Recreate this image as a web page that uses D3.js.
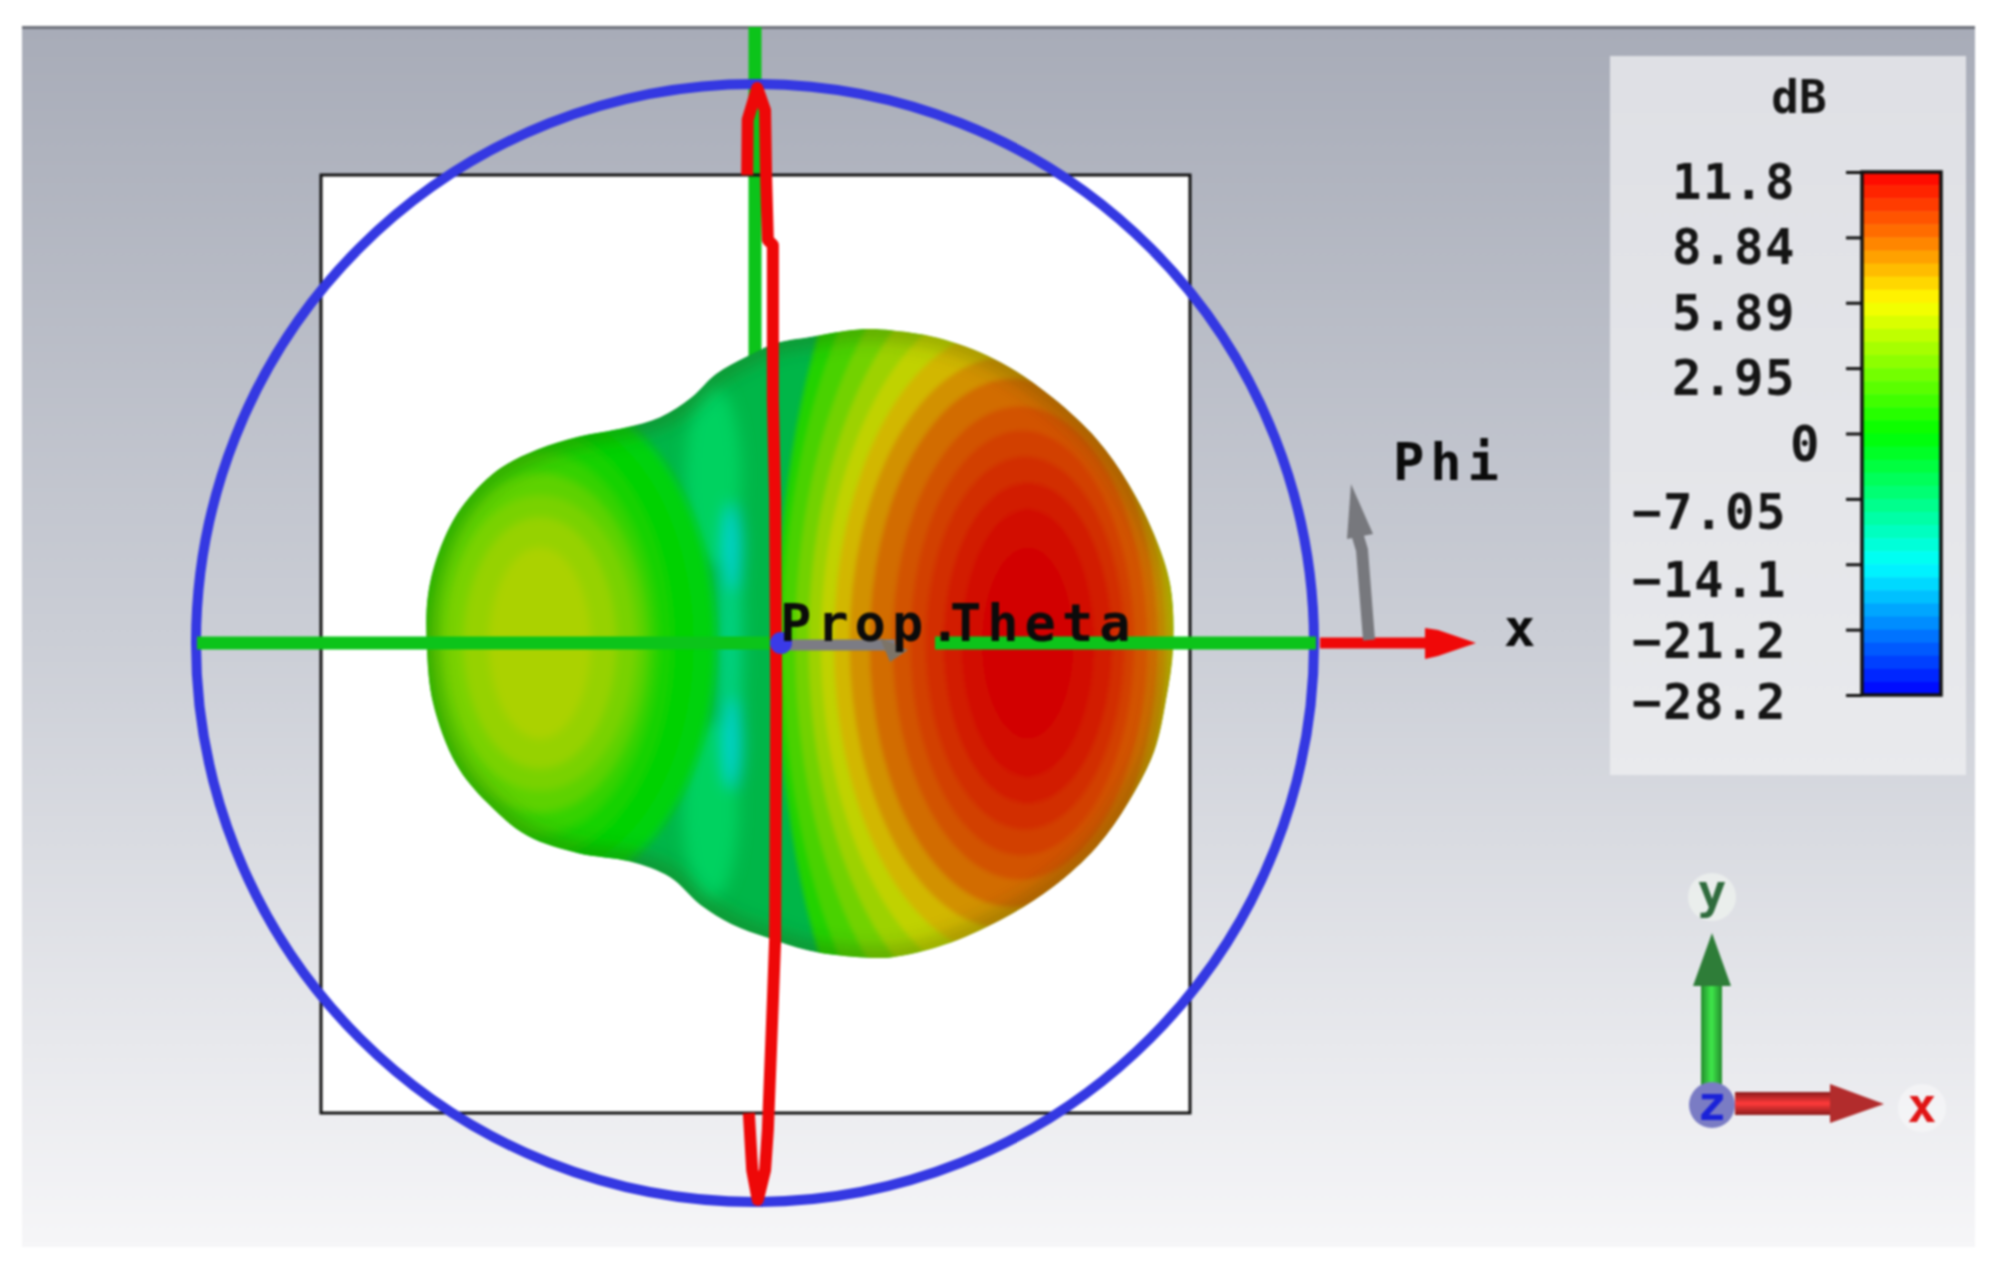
<!DOCTYPE html>
<html>
<head>
<meta charset="utf-8">
<title>Farfield pattern</title>
<script src="https://cdn.jsdelivr.net/npm/d3@7"></script>
<style>
  html, body { margin: 0; padding: 0; background: #fff; }
  svg { display: block; filter: blur(0.8px); }
  text { font-family: "DejaVu Sans Mono", monospace; }
</style>
</head>
<body>
<svg id="chart" width="1999" height="1279"></svg>
<script>
// Colour legend, top to bottom
const legendTicks = [11.8, 8.84, 5.89, 2.95, 0, -7.05, -14.1, -21.2, -28.2];
const legendLabels = ["11.8", "8.84", "5.89", "2.95", "0", "-7.05", "-14.1", "-21.2", "-28.2"];
const legendColors = ["#ff0000", "#ff7800", "#ffff00", "#80ff00", "#00ff00", "#00ff80", "#00ffff", "#0080ff", "#0000ff"];

// Outline of the pattern, in units of the blue circle radius
const outlineU = [0.748, 0.743, 0.714, 0.668, 0.611, 0.531, 0.44, 0.338, 0.246, 0.186, 0.095, 0.04, -0.014, -0.07, -0.114, -0.17, -0.233, -0.316, -0.389, -0.462, -0.526, -0.562, -0.585, -0.587, -0.576, -0.535, -0.479, -0.407, -0.316, -0.224, -0.152, -0.097, -0.042, 0.021, 0.095, 0.186, 0.246, 0.338, 0.44, 0.531, 0.611, 0.668, 0.714, 0.735];
const outlineV = [-0.007, 0.103, 0.194, 0.285, 0.365, 0.44, 0.502, 0.543, 0.559, 0.561, 0.547, 0.537, 0.513, 0.481, 0.439, 0.404, 0.385, 0.369, 0.346, 0.308, 0.241, 0.172, 0.086, -0.007, -0.107, -0.216, -0.286, -0.345, -0.376, -0.391, -0.419, -0.469, -0.503, -0.527, -0.55, -0.562, -0.562, -0.54, -0.495, -0.438, -0.365, -0.285, -0.194, -0.103];

// Main lobe contour bands (outermost first)
const mainDb = [1, 2, 3.2, 4.4, 5.4, 6.6, 7.6, 8.6, 9.3, 9.9, 10.4, 10.9, 11.3, 11.8];
const mainCx = [0.478, 0.456, 0.449, 0.447, 0.444, 0.444, 0.452, 0.463, 0.474, 0.478, 0.483, 0.488, 0.488, 0.488];
const mainRx = [0.438, 0.406, 0.377, 0.351, 0.326, 0.303, 0.283, 0.258, 0.228, 0.2, 0.178, 0.151, 0.119, 0.082];
const mainRy = [1.0, 0.85, 0.75, 0.68, 0.613, 0.559, 0.512, 0.473, 0.423, 0.38, 0.334, 0.287, 0.24, 0.171];

// Back lobe contour bands
const backDb = [-0.6, 0, 0.6, 1.5, 2.6, 3.4, 4.2, 4.8];
const backCx = [-0.36, -0.37, -0.38, -0.385, -0.385, -0.385, -0.385, -0.385];
const backRx = [0.29, 0.26, 0.233, 0.21, 0.192, 0.172, 0.137, 0.091];
const backRy = [0.44, 0.41, 0.38, 0.341, 0.303, 0.264, 0.225, 0.171];

// Null between the lobes
const nullDb = [-6.5, -6.5, -8.5, -14, -14];
const nullU = [-0.075, -0.08, -0.045, -0.04, -0.04];
const nullV = [0.3, -0.3, 0, 0.17, -0.18];
const nullRx = [0.05, 0.05, 0.022, 0.016, 0.016];
const nullRy = [0.16, 0.16, 0.26, 0.075, 0.08];

// Polar cut (red trace)
const cutU = [-0.014, -0.013, 0.004, 0.018, 0.02, 0.023, 0.032, 0.032, 0.036, 0.038, 0.036, 0.032, 0.023, 0.018, 0.005, -0.005, -0.011];
const cutV = [0.837, 0.936, 0.993, 0.953, 0.828, 0.721, 0.712, 0.435, 0.256, -0.102, -0.531, -0.639, -0.871, -0.943, -0.996, -0.943, -0.841];

const svg = d3.select("#chart");
const defs = svg.append("defs");

const px = d3.scaleLinear().domain([-1, 1]).range([196, 1314]);
const py = d3.scaleLinear().domain([-1, 1]).range([1202, 84]);

const tickIndex = legendTicks.map((d, i) => i);
const dbToIndex = d3.scaleLinear().domain(legendTicks).range(tickIndex);
const indexColor = d3.scaleLinear().domain(tickIndex).range(legendColors);
const legendY = d3.scaleLinear().domain([0, 8]).range([172, 695]);
const surface = (db) => d3.rgb(indexColor(dbToIndex(db))).darker(0.55).formatRgb();

function vGradient(id, stops) {
  const g = defs.append("linearGradient").attr("id", id).attr("x1", 0).attr("x2", 0).attr("y1", 0).attr("y2", 1);
  stops.forEach((s) => g.append("stop").attr("offset", s[0]).attr("stop-color", s[1]));
}
function hGradient(id, stops) {
  const g = defs.append("linearGradient").attr("id", id).attr("x1", 0).attr("x2", 1).attr("y1", 0).attr("y2", 0);
  stops.forEach((s) => g.append("stop").attr("offset", s[0]).attr("stop-color", s[1]));
}
vGradient("bg", [[0, "#a8acb8"], [0.5, "#cbced6"], [1, "#f6f6f8"]]);
vGradient("panel", [[0, "#dfe0e5"], [1, "#e9eaed"]]);
hGradient("shaftY", [[0, "#228a2c"], [0.5, "#3fe84a"], [1, "#228a2c"]]);
vGradient("shaftX", [[0, "#8a1c1c"], [0.5, "#ff3a3a"], [1, "#8a1c1c"]]);

[["soft2", 2], ["soft4", 4], ["soft8", 8], ["soft9", 9]].forEach(([id, s]) => {
  defs.append("filter").attr("id", id)
    .attr("x", "-30%").attr("y", "-30%").attr("width", "160%").attr("height", "160%")
    .append("feGaussianBlur").attr("stdDeviation", s);
});

// Background
svg.append("rect").attr("x", 22).attr("y", 26).attr("width", 1953).attr("height", 1221).attr("fill", "url(#bg)");
svg.append("rect").attr("x", 22).attr("y", 26).attr("width", 1953).attr("height", 3).attr("fill", "#6f727b");

// Substrate
svg.append("rect").attr("x", 321).attr("y", 175).attr("width", 869).attr("height", 938)
  .attr("fill", "#fff");

const lineFn = d3.line().x((d) => px(d[0])).y((d) => py(d[1]));

// Vertical green axis sits behind the pattern
svg.append("line").attr("x1", px(0)).attr("x2", px(0)).attr("y1", 27).attr("y2", 360)
  .attr("stroke", "#0cc41a").attr("stroke-width", 13);

// Pattern surface
const outlinePts = outlineU.map((u, i) => [u, outlineV[i]]);
const outlineD = lineFn.curve(d3.curveCatmullRomClosed)(outlinePts);
defs.append("clipPath").attr("id", "blob").append("path").attr("d", outlineD);

const blob = svg.append("g").attr("clip-path", "url(#blob)");
blob.append("path").attr("d", outlineD).attr("fill", "#00b648");

blob.append("g").attr("filter", "url(#soft8)")
  .selectAll("ellipse").data(nullDb).join("ellipse")
  .attr("cx", (d, i) => px(nullU[i]))
  .attr("cy", (d, i) => py(nullV[i]))
  .attr("rx", (d, i) => px(nullRx[i]) - px(0))
  .attr("ry", (d, i) => py(0) - py(nullRy[i]))
  .attr("fill", (d) => surface(d));

function rings(dbs, cxs, rxs, rys, soft) {
  blob.append("g").attr("filter", "url(#" + soft + ")")
    .selectAll("ellipse").data(dbs).join("ellipse")
    .attr("cx", (d, i) => px(cxs[i]))
    .attr("cy", py(0))
    .attr("rx", (d, i) => px(rxs[i]) - px(0))
    .attr("ry", (d, i) => py(0) - py(rys[i]))
    .attr("fill", (d) => surface(d));
}
rings(backDb, backCx, backRx, backRy, "soft4");
rings(mainDb, mainCx, mainRx, mainRy, "soft2");

// Darker rim of the surface
blob.append("path").attr("d", outlineD).attr("fill", "none")
  .attr("stroke", "#3a4a10").attr("stroke-width", 20).attr("stroke-opacity", 0.3)
  .attr("filter", "url(#soft9)");

// Box outline above the pattern trace parts
svg.append("rect").attr("x", 321).attr("y", 175).attr("width", 869).attr("height", 938)
  .attr("fill", "none").attr("stroke", "#111").attr("stroke-width", 3);

// Blue circle
svg.append("circle").attr("cx", px(0)).attr("cy", py(0)).attr("r", px(1) - px(0))
  .attr("fill", "none").attr("stroke", "#3438e2").attr("stroke-width", 10);

// Horizontal green axis, gray theta arrow
svg.append("line").attr("x1", 197).attr("x2", 775).attr("y1", py(0)).attr("y2", py(0))
  .attr("stroke", "#0cc41a").attr("stroke-width", 13);
svg.append("line").attr("x1", 780).attr("x2", 895).attr("y1", py(0) + 2).attr("y2", py(0) + 2)
  .attr("stroke", "#7c7c84").attr("stroke-width", 11);
svg.append("path").attr("d", "M880,638 L908,650 L890,662 Z").attr("fill", "#7c7468");
svg.append("line").attr("x1", 935).attr("x2", 1316).attr("y1", py(0)).attr("y2", py(0))
  .attr("stroke", "#0cc41a").attr("stroke-width", 13);

// Red trace
const cutPts = cutU.map((u, i) => [u, cutV[i]]);
svg.append("path").attr("d", lineFn.curve(d3.curveLinear)(cutPts))
  .attr("fill", "none").attr("stroke", "#ee0808").attr("stroke-width", 12).attr("stroke-linejoin", "round");

// Origin marker
svg.append("circle").attr("cx", 781).attr("cy", py(0)).attr("r", 11).attr("fill", "#3a3ae8");

// X arrow, phi arrow
svg.append("line").attr("x1", 1320).attr("x2", 1440).attr("y1", py(0)).attr("y2", py(0))
  .attr("stroke", "#f00808").attr("stroke-width", 11);
svg.append("path").attr("d", "M1425,628 L1438,630 L1476,643 L1438,656 L1425,659 Z").attr("fill", "#f00808");
svg.append("path").attr("d", "M1369,640 L1362,550 L1356,530").attr("fill", "none")
  .attr("stroke", "#77787d").attr("stroke-width", 12);
svg.append("path").attr("d", "M1351,484 L1373,534 L1347,539 Z").attr("fill", "#77787d");

const labelG = svg.append("g").attr("fill", "#0b0b0b").attr("font-size", 52).attr("font-weight", 700).attr("letter-spacing", 6);
labelG.append("text").attr("x", 780).attr("y", 641).text("Prop.");
labelG.append("text").attr("x", 950).attr("y", 641).text("Theta");
labelG.append("text").attr("x", 1393).attr("y", 480).text("Phi");
labelG.append("text").attr("x", 1504).attr("y", 646).text("x");

// Legend panel
svg.append("rect").attr("x", 1610).attr("y", 56).attr("width", 356).attr("height", 719).attr("fill", "url(#panel)");
svg.append("text").attr("x", 1799).attr("y", 113).attr("text-anchor", "middle")
  .attr("font-size", 46).attr("font-weight", 700).attr("fill", "#151515").text("dB");

const barSteps = d3.range(0, 8, 0.2);
svg.append("g").selectAll("rect").data(barSteps).join("rect")
  .attr("x", 1862).attr("width", 79)
  .attr("y", (d) => legendY(d))
  .attr("height", legendY(0.2) - legendY(0) + 0.5)
  .attr("fill", (d) => indexColor(d + 0.1));
svg.append("rect").attr("x", 1862).attr("y", 172).attr("width", 79).attr("height", 523)
  .attr("fill", "none").attr("stroke", "#111").attr("stroke-width", 3.5);

const legendAxis = d3.axisLeft(legendY).tickValues(tickIndex).tickSize(16).tickSizeOuter(0).tickFormat("");
const axisG = svg.append("g").attr("transform", "translate(1862,0)").call(legendAxis);
axisG.select(".domain").remove();
axisG.selectAll("line").attr("stroke", "#111").attr("stroke-width", 3);

// Label nudges so the text sits where the reference prints it
const labelNudge = [14, 14, 14, 14, 14, 17, 20, 15, 11];
const labelEnd = [1796, 1796, 1796, 1796, 1821, 1787, 1787, 1787, 1787];
svg.append("g").attr("font-size", 49).attr("font-weight", 700).attr("letter-spacing", 1.5).attr("fill", "#151515")
  .selectAll("text").data(legendLabels).join("text")
  .attr("x", (d, i) => labelEnd[i])
  .attr("y", (d, i) => legendY(i) + labelNudge[i] + 13)
  .attr("text-anchor", "end")
  .text((d) => d.replace("-", "\u2212"));

// Orientation triad
svg.append("rect").attr("x", 1701).attr("y", 975).attr("width", 21).attr("height", 112).attr("fill", "url(#shaftY)");
svg.append("path").attr("d", "M1712,933 L1731,986 L1693,986 Z").attr("fill", "#2e7d38");
svg.append("rect").attr("x", 1735).attr("y", 1092).attr("width", 100).attr("height", 23).attr("fill", "url(#shaftX)");
svg.append("path").attr("d", "M1830,1084 L1884,1104 L1830,1123 Z").attr("fill", "#b22c2c");
svg.append("circle").attr("cx", 1712).attr("cy", 1105).attr("r", 23).attr("fill", "#7a7cc4");

svg.append("circle").attr("cx", 1712).attr("cy", 897).attr("r", 24).attr("fill", "#f0f3f0").attr("fill-opacity", 0.7);
svg.append("circle").attr("cx", 1922).attr("cy", 1108).attr("r", 24).attr("fill", "#f6f6f8").attr("fill-opacity", 0.7);
const triadLabels = [["y", 1712, 908, "#2f6b3c"], ["z", 1712, 1120, "#1a22d8"], ["x", 1922, 1122, "#e01414"]];
svg.append("g").attr("font-size", 48).attr("font-weight", 700).attr("text-anchor", "middle")
  .selectAll("text").data(triadLabels).join("text")
  .attr("x", (d) => d[1]).attr("y", (d) => d[2]).attr("fill", (d) => d[3]).text((d) => d[0]);
</script>
</body>
</html>
